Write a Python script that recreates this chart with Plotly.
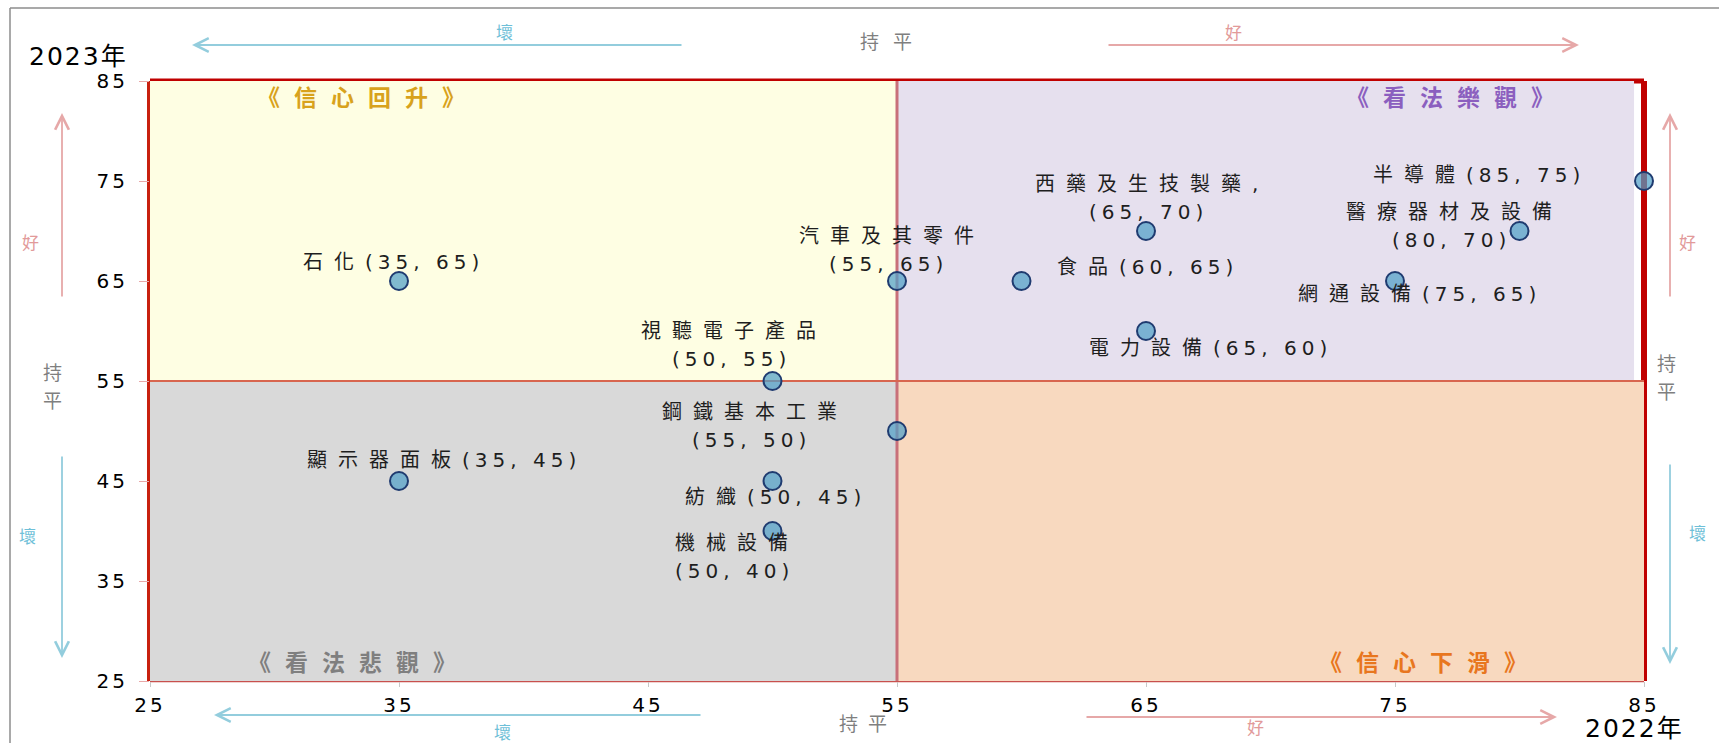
import plotly.graph_objects as go

# ---------------- data ----------------
industries = ["石化", "顯示器面板", "視聽電子產品", "紡織", "機械設備", "汽車及其零件",
              "鋼鐵基本工業", "食品", "西藥及生技製藥", "電力設備", "網通設備",
              "醫療器材及設備", "半導體"]
score_2022 = [35, 35, 50, 50, 50, 55, 55, 60, 65, 65, 75, 80, 85]
score_2023 = [65, 45, 55, 45, 40, 65, 50, 65, 70, 60, 65, 70, 75]
axis_ticks = [25, 35, 45, 55, 65, 75, 85]
quadrant_titles = ["《信心回升》", "《看法樂觀》", "《看法悲觀》", "《信心下滑》"]
x_title = "2022年"
y_title = "2023年"
word_good, word_flat, word_bad = "好", "持平", "壞"
mid_x, mid_y = 55, 55
x_range = [25, 85]
y_range = [25, 85]

# ---------------- layout / style ----------------
W, H = 1719, 743
ML, MR, MT, MB = 150, 75, 81, 62
PW, PH = W - ML - MR, H - MT - MB
FONT = "DejaVu Sans, Noto Sans CJK TC, sans-serif"

# label separator between name and value ("\n" = new line)
label_sep = ["", "", "\n", "", "\n", "\n", "\n", "", ",\n", "", "", "\n", ""]
# visible label centre offset from the point (px; y up positive)
label_off = [(-8, 19), (42, 21), (-44, 36), (0, -16), (-41, -26), (-11, 31), (-148, 5),
             (123, 14), (0, 33), (62, -17), (22, -13), (-71, 5), (-168, 6)]
LINE_GAP = 28


def is_cjk(ch):
    return ord(ch) >= 0x2E80


def spaced(text, cjk_sp, lat_sp):
    runs = []
    for ch in text:
        k = is_cjk(ch)
        if runs and runs[-1][0] == k:
            runs[-1][1] += ch
        else:
            runs.append([k, ch])
    out = "".join('<span style="letter-spacing:%spx">%s</span>' % (cjk_sp if k else lat_sp, s)
                  for k, s in runs)
    last = cjk_sp if runs[-1][0] else lat_sp
    return out, last


def px2paper(px, py):
    return (px - ML) / PW, (H - MB - py) / PH


annotations = []
shapes = []


def add_text(px, py, text, size, color, cjk_sp=0, lat_sp=0, bold=False):
    t, last = spaced(text, cjk_sp, lat_sp)
    if bold:
        t = "<b>" + t + "</b>"
    x, y = px2paper(px + last / 2.0, py)
    annotations.append(dict(x=x, y=y, xref="paper", yref="paper", text=t, showarrow=False,
                            xanchor="center", yanchor="middle",
                            font=dict(family=FONT, size=size, color=color)))


def add_arrow(tail, tip, color):
    x, y = px2paper(*tip)
    annotations.append(dict(x=x, y=y, xref="paper", yref="paper", text="", showarrow=True,
                            ax=tail[0] - tip[0], ay=tail[1] - tip[1],
                            arrowhead=5, arrowsize=1.5, arrowwidth=1.8, arrowcolor=color,
                            standoff=0, startstandoff=0))


fig = go.Figure()

# points
fig.add_trace(go.Scatter(
    x=score_2022, y=score_2023, mode="markers", text=industries,
    marker=dict(size=18, color="rgba(80,160,200,0.72)",
                line=dict(color="#1F3B70", width=2)),
    cliponaxis=False, hoverinfo="text+x+y"))

# data labels
LBL_COLOR = "#1E1E1E"
for i, name in enumerate(industries):
    full = "%s%s(%d, %d)" % (name, label_sep[i], score_2022[i], score_2023[i])
    lines = full.split("\n")
    n = len(lines)
    ox, oy = label_off[i]
    for j, ln in enumerate(lines):
        t, last = spaced(ln, 11, 5)
        annotations.append(dict(
            x=score_2022[i], y=score_2023[i], xref="x", yref="y", text=t, showarrow=False,
            xanchor="center", yanchor="middle",
            xshift=ox + last / 2.0, yshift=oy + ((n - 1) / 2.0 - j) * LINE_GAP,
            font=dict(family=FONT, size=20, color=LBL_COLOR)))

# quadrant fills
fills = [
    (x_range[0], mid_x, mid_y, y_range[1], "#FEFEE3"),
    (mid_x, 84.6, mid_y, y_range[1], "#E6E0EE"),
    (x_range[0], mid_x, y_range[0], mid_y, "#D9D9D9"),
    (mid_x, x_range[1], y_range[0], mid_y, "#F8D9BF"),
]
for x0, x1, y0, y1, c in fills:
    shapes.append(dict(type="rect", xref="x", yref="y", x0=x0, x1=x1, y0=y0, y1=y1,
                       fillcolor=c, line=dict(width=0), layer="below"))

# dividers
shapes.append(dict(type="line", xref="x", yref="y", x0=mid_x, x1=mid_x,
                   y0=y_range[0], y1=y_range[1],
                   line=dict(color="#C8707A", width=3), layer="below"))
shapes.append(dict(type="line", xref="x", yref="y", x0=x_range[0], x1=x_range[1],
                   y0=mid_y, y1=mid_y,
                   line=dict(color="#D8664F", width=2), layer="below"))
# frame
frame = [
    (0, 1, 1, 1, "#C00000", 5),
    (0, 0, 0, 1, "#C8200F", 6),
    (1, 1, 0, 1, "#C00000", 6),
    (0, 1, 0, 0, "#C8504D", 2.5),
]
for x0, x1, y0, y1, c, w in frame:
    shapes.append(dict(type="line", xref="x domain", yref="y domain", x0=x0, x1=x1, y0=y0, y1=y1,
                       line=dict(color=c, width=w), layer="below"))

# outer gray picture frame (top and left)
ax0, ay0 = px2paper(10, 8)
ax1, _ = px2paper(W + 5, 8)
_, ay1 = px2paper(10, H + 5)
shapes.append(dict(type="line", xref="paper", yref="paper", x0=ax0, x1=ax1, y0=ay0, y1=ay0,
                   line=dict(color="#8C8C8C", width=1.5)))
shapes.append(dict(type="line", xref="paper", yref="paper", x0=ax0, x1=ax0, y0=ay0, y1=ay1,
                   line=dict(color="#8C8C8C", width=1.5)))

# quadrant titles
q_pos = [(361, 98), (1450, 98), (352, 663), (1423, 663)]
q_col = ["#D8A21C", "#8B5FBF", "#7F7F7F", "#E8761E"]
for t, (px, py), c in zip(quadrant_titles, q_pos, q_col):
    add_text(px, py, t, 23, c, 14, 14, bold=True)

# axis titles
add_text(77, 57, y_title, 25, "#000000", 2, 2)
add_text(1633, 728, x_title, 25, "#000000", 2, 2)

# direction arrows
BLUE_A, PINK_A = "#93CDDD", "#E6A8A8"
BLUE_T, PINK_T, GRAY_T = "#6EC0D8", "#E29A9A", "#7F7F7F"
add_arrow((683, 45), (192, 45), BLUE_A)
add_arrow((1107, 45), (1579, 45), PINK_A)
add_arrow((62, 298), (62, 113), PINK_A)
add_arrow((62, 455), (62, 658), BLUE_A)
add_arrow((1670, 298), (1670, 113), PINK_A)
add_arrow((1670, 463), (1670, 664), BLUE_A)
add_arrow((702, 715), (214, 715), BLUE_A)
add_arrow((1085, 717), (1557, 717), PINK_A)

add_text(504, 33, word_bad, 17, BLUE_T)
add_text(886, 42, word_flat, 19, GRAY_T, 14, 14)
add_text(1233, 33, word_good, 17, PINK_T)
add_text(30, 243, word_good, 17, PINK_T)
add_text(27, 537, word_bad, 17, BLUE_T)
add_text(1688, 243, word_good, 17, PINK_T)
add_text(1697, 534, word_bad, 17, BLUE_T)
add_text(502, 733, word_bad, 17, BLUE_T)
add_text(863, 724, word_flat, 19, GRAY_T, 10, 10)
add_text(1255, 728, word_good, 17, PINK_T)
# stacked 持平 on left and right
for cx, cy in [(52, 387), (1666, 378)]:
    for j, ch in enumerate(word_flat):
        add_text(cx, cy + (j - 0.5) * 28, ch, 19, GRAY_T)

tick_text = [spaced(str(v), 3, 3)[0] for v in axis_ticks]

fig.update_layout(
    width=W, height=H,
    margin=dict(l=ML, r=MR, t=MT, b=MB, pad=0),
    paper_bgcolor="white", plot_bgcolor="white",
    showlegend=False,
    shapes=shapes, annotations=annotations,
    xaxis=dict(range=x_range, tickvals=axis_ticks, ticktext=tick_text, showgrid=False,
               zeroline=False, showline=False, ticks="outside", ticklen=5,
               tickcolor="#C8C8C8", ticklabelstandoff=1,
               tickfont=dict(family=FONT, size=20, color="#000000")),
    yaxis=dict(range=y_range, tickvals=axis_ticks, ticktext=tick_text, showgrid=False,
               zeroline=False, showline=False, ticks="outside", ticklen=10,
               tickcolor="#E8A8A8", ticklabelstandoff=7,
               tickfont=dict(family=FONT, size=20, color="#000000")),
)

fig.write_html("out.html")
